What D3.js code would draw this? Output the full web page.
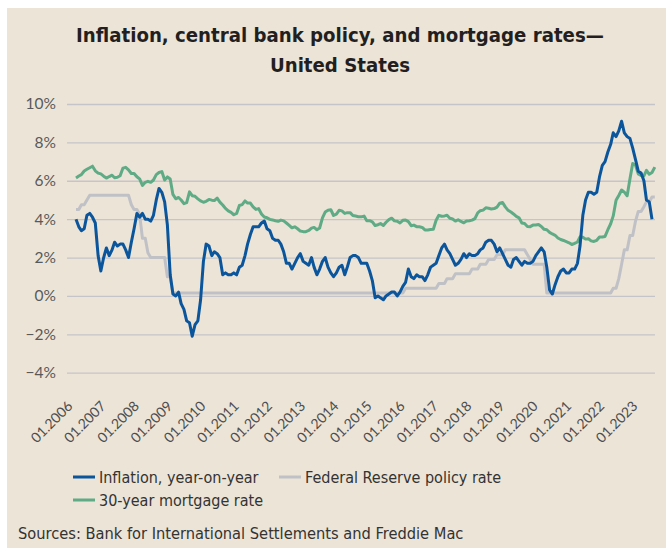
<!DOCTYPE html>
<html>
<head>
<meta charset="utf-8">
<script src="https://cdn.jsdelivr.net/npm/d3@7"></script>
<style>
  body { margin: 0; background: #fff; }
  .cond { font-family: "Liberation Sans Narrow", "DejaVu Sans Condensed", "Roboto", sans-serif; }
  .axis text { font-family: "Lato", "Open Sans", sans-serif; }
</style>
</head>
<body>
<div id="chart"></div>
<script>
// monthly series, first value = 01.2006
var startYear = 2006;

var inflation = [
  4.0, 3.6, 3.4, 3.5, 4.2, 4.3, 4.1, 3.8, 2.1, 1.3, 2.0, 2.5,   // 2006
  2.1, 2.4, 2.8, 2.6, 2.7, 2.7, 2.4, 2.0, 2.8, 3.5, 4.3, 4.1,   // 2007
  4.3, 4.0, 4.0, 3.9, 4.2, 5.0, 5.6, 5.4, 4.9, 3.7, 1.1, 0.1,   // 2008
  0.0, 0.2, -0.4, -0.7, -1.3, -1.4, -2.1, -1.5, -1.3, -0.2, 1.8, 2.7, // 2009
  2.6, 2.1, 2.3, 2.2, 2.0, 1.1, 1.2, 1.1, 1.1, 1.2, 1.1, 1.5,   // 2010
  1.6, 2.1, 2.7, 3.2, 3.6, 3.6, 3.6, 3.8, 3.9, 3.5, 3.4, 3.0,   // 2011
  2.9, 2.9, 2.7, 2.3, 1.7, 1.7, 1.4, 1.7, 2.0, 2.2, 1.8, 1.7,   // 2012
  1.6, 2.0, 1.5, 1.1, 1.4, 1.8, 2.0, 1.5, 1.2, 1.0, 1.2, 1.5,   // 2013
  1.6, 1.1, 1.5, 2.0, 2.1, 2.1, 2.0, 1.7, 1.7, 1.7, 1.3, 0.8,   // 2014
  -0.1, 0.0, -0.1, -0.2, 0.0, 0.1, 0.2, 0.2, 0.0, 0.2, 0.5, 0.7, // 2015
  1.4, 1.0, 0.9, 1.1, 1.0, 1.0, 0.8, 1.1, 1.5, 1.6, 1.7, 2.1,   // 2016
  2.5, 2.7, 2.4, 2.2, 1.9, 1.6, 1.7, 1.9, 2.2, 2.0, 2.2, 2.1,   // 2017
  2.1, 2.2, 2.4, 2.5, 2.8, 2.9, 2.9, 2.7, 2.3, 2.5, 2.2, 1.9,   // 2018
  1.6, 1.5, 1.9, 2.0, 1.8, 1.6, 1.8, 1.7, 1.7, 1.8, 2.1, 2.3,   // 2019
  2.5, 2.3, 1.5, 0.3, 0.1, 0.6, 1.0, 1.3, 1.4, 1.2, 1.2, 1.4,   // 2020
  1.4, 1.7, 2.6, 4.2, 5.0, 5.4, 5.4, 5.3, 5.4, 6.2, 6.8, 7.0,   // 2021
  7.5, 7.9, 8.5, 8.3, 8.6, 9.1, 8.5, 8.3, 8.2, 7.7, 7.1, 6.5,   // 2022
  6.4, 6.0, 5.0, 4.9, 4.0                                       // 2023
];

var policyRate = [
  4.5, 4.5, 4.75, 4.75, 5.0, 5.25, 5.25, 5.25, 5.25, 5.25, 5.25, 5.25, // 2006
  5.25, 5.25, 5.25, 5.25, 5.25, 5.25, 5.25, 5.25, 4.75, 4.5, 4.5, 4.25, // 2007
  3.0, 3.0, 2.25, 2.0, 2.0, 2.0, 2.0, 2.0, 2.0, 1.0, 1.0, 0.15,         // 2008
  0.15, 0.15, 0.15, 0.15, 0.15, 0.15, 0.15, 0.15, 0.15, 0.15, 0.15, 0.15, // 2009
  0.15, 0.15, 0.15, 0.15, 0.15, 0.15, 0.15, 0.15, 0.15, 0.15, 0.15, 0.15, // 2010
  0.15, 0.15, 0.15, 0.15, 0.15, 0.15, 0.15, 0.15, 0.15, 0.15, 0.15, 0.15, // 2011
  0.15, 0.15, 0.15, 0.15, 0.15, 0.15, 0.15, 0.15, 0.15, 0.15, 0.15, 0.15, // 2012
  0.15, 0.15, 0.15, 0.15, 0.15, 0.15, 0.15, 0.15, 0.15, 0.15, 0.15, 0.15, // 2013
  0.15, 0.15, 0.15, 0.15, 0.15, 0.15, 0.15, 0.15, 0.15, 0.15, 0.15, 0.15, // 2014
  0.15, 0.15, 0.15, 0.15, 0.15, 0.15, 0.15, 0.15, 0.15, 0.15, 0.15, 0.4,  // 2015
  0.4, 0.4, 0.4, 0.4, 0.4, 0.4, 0.4, 0.4, 0.4, 0.4, 0.4, 0.65,           // 2016
  0.65, 0.65, 0.9, 0.9, 0.9, 1.15, 1.15, 1.15, 1.15, 1.15, 1.15, 1.4,    // 2017
  1.4, 1.4, 1.65, 1.65, 1.65, 1.9, 1.9, 1.9, 2.15, 2.15, 2.15, 2.4,      // 2018
  2.4, 2.4, 2.4, 2.4, 2.4, 2.4, 2.4, 2.15, 1.9, 1.65, 1.65, 1.65,        // 2019
  1.65, 1.65, 0.15, 0.15, 0.15, 0.15, 0.15, 0.15, 0.15, 0.15, 0.15, 0.15, // 2020
  0.15, 0.15, 0.15, 0.15, 0.15, 0.15, 0.15, 0.15, 0.15, 0.15, 0.15, 0.15, // 2021
  0.15, 0.15, 0.4, 0.4, 0.9, 1.65, 2.4, 2.4, 3.15, 3.15, 3.9, 4.4,       // 2022
  4.4, 4.65, 4.9, 4.9, 5.15, 5.15                                        // 2023
];

var mortgage = [
  6.15, 6.25, 6.32, 6.51, 6.60, 6.68, 6.76, 6.52, 6.40, 6.36, 6.24, 6.14, // 2006
  6.22, 6.29, 6.16, 6.18, 6.26, 6.66, 6.70, 6.57, 6.38, 6.38, 6.21, 6.10, // 2007
  5.76, 5.92, 5.97, 5.92, 6.04, 6.32, 6.43, 6.48, 6.04, 6.20, 6.09, 5.29, // 2008
  5.06, 5.13, 5.00, 4.81, 4.86, 5.42, 5.22, 5.19, 5.06, 4.95, 4.88, 4.93, // 2009
  5.03, 4.99, 4.97, 5.10, 4.89, 4.74, 4.56, 4.43, 4.35, 4.23, 4.30, 4.71, // 2010
  4.76, 4.95, 4.84, 4.84, 4.64, 4.51, 4.55, 4.27, 4.11, 4.07, 3.99, 3.96, // 2011
  3.92, 3.89, 3.95, 3.91, 3.80, 3.68, 3.55, 3.60, 3.50, 3.38, 3.35, 3.35, // 2012
  3.41, 3.53, 3.57, 3.45, 3.54, 4.07, 4.37, 4.46, 4.49, 4.19, 4.26, 4.46, // 2013
  4.43, 4.30, 4.34, 4.34, 4.19, 4.16, 4.13, 4.12, 4.16, 3.92, 3.92, 3.86, // 2014
  3.67, 3.71, 3.77, 3.67, 3.84, 3.98, 4.05, 3.91, 3.89, 3.80, 3.94, 3.96, // 2015
  3.87, 3.66, 3.69, 3.61, 3.60, 3.57, 3.44, 3.44, 3.46, 3.47, 3.94, 4.20, // 2016
  4.15, 4.17, 4.20, 4.05, 4.01, 3.90, 3.97, 3.88, 3.81, 3.90, 3.92, 3.95, // 2017
  4.03, 4.33, 4.44, 4.47, 4.59, 4.57, 4.53, 4.55, 4.63, 4.83, 4.87, 4.64, // 2018
  4.46, 4.37, 4.27, 4.14, 4.07, 3.80, 3.77, 3.62, 3.61, 3.69, 3.70, 3.72, // 2019
  3.62, 3.47, 3.45, 3.31, 3.23, 3.16, 3.02, 2.94, 2.89, 2.83, 2.77, 2.68, // 2020
  2.74, 2.81, 3.08, 3.06, 2.96, 2.98, 2.87, 2.84, 2.90, 3.07, 3.07, 3.10, // 2021
  3.45, 3.76, 4.17, 4.98, 5.23, 5.52, 5.41, 5.22, 6.11, 6.90, 6.81, 6.36, // 2022
  6.27, 6.26, 6.54, 6.34, 6.43, 6.71                                      // 2023
];

var yTicks = [-4, -2, 0, 2, 4, 6, 8, 10];
var xTickYears = d3.range(2006, 2024);

var seriesNames = ["Inflation, year-on-year", "Federal Reserve policy rate", "30-year mortgage rate"];
var seriesColors = ["#0b559c", "#c0c1c6", "#5eab86"];

var width = 666, height = 548;

var svg = d3.select("#chart").append("svg")
    .attr("width", width)
    .attr("height", height);

// beige panel
svg.append("rect")
    .attr("x", 7).attr("y", 8)
    .attr("width", width - 7).attr("height", height - 8)
    .attr("fill", "#ece4d6");

function monthDate(i) { return new Date(startYear, i, 1); }

var x = d3.scaleTime()
    .domain([new Date(2006, 0, 1), new Date(2023, 4, 1)])
    .range([76, 652]);

var y = d3.scaleLinear()
    .domain([-4, 10])
    .range([372.7, 104]);

// title
var title = svg.append("text")
    .attr("class", "cond")
    .attr("text-anchor", "middle")
    .attr("font-weight", "bold")
    .attr("fill", "#231f20")
    .attr("font-size", 21);
title.append("tspan").attr("x", 340).attr("y", 42).text("Inflation, central bank policy, and mortgage rates\u2014");
title.append("tspan").attr("x", 340).attr("y", 72).text("United States");
// fit first line to the reference width
var tl = title.select("tspan").node().getComputedTextLength();
title.attr("font-size", 21 * 528 / tl);

// grid + y labels
var yAxis = svg.append("g")
    .attr("class", "axis")
    .attr("transform", "translate(67,0)")
    .call(d3.axisLeft(y).tickValues(yTicks).tickSize(-588)
        .tickFormat(function(d) { return (d < 0 ? "\u2212" + (-d) : d) + "%"; }));
yAxis.select(".domain").remove();
yAxis.selectAll(".tick line").attr("stroke", "#c5c4c8").attr("stroke-width", 1.3);
yAxis.selectAll(".tick text")
    .attr("x", -11)
    .attr("font-size", 15.5)
    .attr("fill", "#58595b");

// x labels
var xAxis = svg.append("g")
    .attr("class", "axis")
    .attr("transform", "translate(0,392)")
    .call(d3.axisBottom(x).tickValues(xTickYears.map(function(yr) { return new Date(yr, 0, 1); }))
        .tickSize(0)
        .tickFormat(d3.timeFormat("%m.%Y")));
xAxis.select(".domain").remove();
xAxis.selectAll(".tick text")
    .attr("text-anchor", "end")
    .attr("dy", 0)
    .attr("y", 0)
    .attr("transform", "translate(-3,15) rotate(-45)")
    .attr("font-size", 14)
    .attr("fill", "#4d4d4f");

// lines
var line = d3.line()
    .x(function(d, i) { return x(monthDate(i)); })
    .y(function(d) { return y(d); });

var drawOrder = [policyRate, mortgage, inflation];
var drawColors = [seriesColors[1], seriesColors[2], seriesColors[0]];
drawOrder.forEach(function(s, k) {
  svg.append("path")
      .datum(s)
      .attr("fill", "none")
      .attr("stroke", drawColors[k])
      .attr("stroke-width", 3)
      .attr("stroke-linejoin", "round")
      .attr("d", line);
});

// legend
var legendItems = [
  {name: seriesNames[0], color: seriesColors[0], x: 73, y: 477},
  {name: seriesNames[1], color: seriesColors[1], x: 279, y: 477},
  {name: seriesNames[2], color: seriesColors[2], x: 73, y: 500}
];
var legend = svg.append("g").attr("class", "cond");
legendItems.forEach(function(d) {
  legend.append("line")
      .attr("x1", d.x).attr("x2", d.x + 22)
      .attr("y1", d.y).attr("y2", d.y)
      .attr("stroke", d.color).attr("stroke-width", 3);
  legend.append("text")
      .attr("x", d.x + 26).attr("y", d.y + 5.5)
      .attr("font-size", 16)
      .attr("fill", "#333")
      .text(d.name);
});

// source
svg.append("text")
    .attr("class", "cond")
    .attr("x", 18).attr("y", 539)
    .attr("font-size", 16.3)
    .attr("fill", "#333")
    .text("Sources: Bank for International Settlements and Freddie Mac");
</script>
</body>
</html>
